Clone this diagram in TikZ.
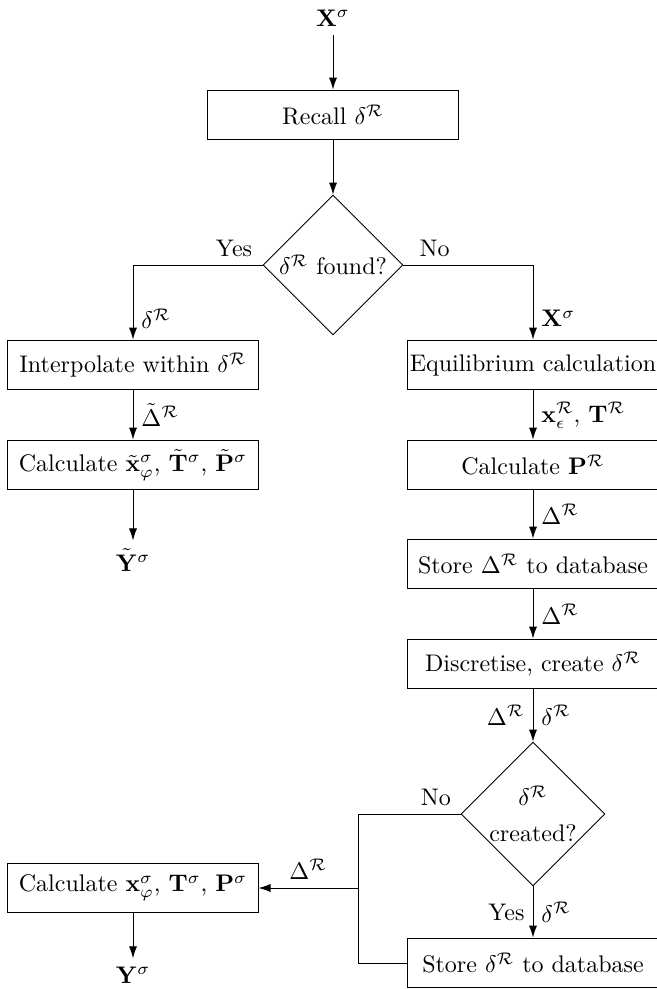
\documentclass[tikz,border=0pt]{standalone}
\usepackage{amsmath,amssymb,bm}
\usepackage{tikz}
\usetikzlibrary{positioning,arrows.meta,shapes.geometric}

\begin{document}
\begin{tikzpicture}[x=0.41667pt, y=-0.41667pt,
  procn/.style={rectangle, draw, minimum width=104.2pt, minimum height=20.8pt, inner sep=1pt},
  decn/.style={diamond, draw, aspect=1, minimum width=58.3pt, minimum height=58.3pt, inner sep=0pt, align=center},
  flow/.style={-{Latex[length=5pt, width=3.4pt]}}]
\useasboundingbox (0,0) rectangle (657,989);
% main column
\node (xin) at (333,18) {$\mathbf{X}^{\sigma}$};
\node[procn] (recall) at (333,115) {Recall $\delta^{\mathcal{R}}$};
\node[decn] (found) at (333,265) {$\delta^{\mathcal{R}}$ found?};
\draw[flow] (xin) -- (recall);
\draw[flow] (recall) -- (found);
% found branch
\node[procn] (interp) at (133,365) {Interpolate within $\delta^{\mathcal{R}}$};
\node[procn] (calct) at (133,465) {Calculate $\tilde{\mathbf{x}}^{\sigma}_{\varphi}$, $\tilde{\mathbf{T}}^{\sigma}$, $\tilde{\mathbf{P}}^{\sigma}$};
\node (ytil) at (133,560) {$\tilde{\mathbf{Y}}^{\sigma}$};
\draw[flow] (found.west) -| node[above, pos=0.11] {Yes} node[right, pos=0.86] {$\delta^{\mathcal{R}}$} (interp.north);
\draw[flow] (interp) -- node[right] {$\tilde{\Delta}^{\mathcal{R}}$} (calct);
\draw[flow] (calct) -- (ytil);
% not found branch
\node[procn] (equil) at (533,365) {Equilibrium calculation};
\node[procn] (calcp) at (533,465) {Calculate $\mathbf{P}^{\mathcal{R}}$};
\node[procn] (storeD) at (533,564) {Store $\Delta^{\mathcal{R}}$ to database};
\node[procn] (discr) at (533,664) {Discretise, create $\delta^{\mathcal{R}}$};
\node[decn] (created) at (533,814) {$\delta^{\mathcal{R}}$\\[3pt] created?};
\node[procn] (storeb) at (533,963) {Store $\delta^{\mathcal{R}}$ to database};
\draw[flow] (found.east) -| node[above, pos=0.12] {No} node[right, pos=0.86] {$\mathbf{X}^{\sigma}$} (equil.north);
\draw[flow] (equil) -- node[right] {$\mathbf{x}^{\mathcal{R}}_{\epsilon}$, $\mathbf{T}^{\mathcal{R}}$} (calcp);
\draw[flow] (calcp) -- node[right] {$\Delta^{\mathcal{R}}$} (storeD);
\draw[flow] (storeD) -- node[right] {$\Delta^{\mathcal{R}}$} (discr);
\draw[flow] (discr) -- node[left] {$\Delta^{\mathcal{R}}$} node[right] {$\delta^{\mathcal{R}}$} (created);
\draw[flow] (created) -- node[left] {Yes} node[right] {$\delta^{\mathcal{R}}$} (storeb);
% result from delta
\node[procn] (calcb) at (133,888) {Calculate $\mathbf{x}^{\sigma}_{\varphi}$, $\mathbf{T}^{\sigma}$, $\mathbf{P}^{\sigma}$};
\node (yout) at (133,975) {$\mathbf{Y}^{\sigma}$};
\coordinate (nojoin) at (358,814);
\draw (created.west) -- node[above, pos=0.24] {No} (nojoin) |- (storeb.west);
\draw[flow] (nojoin |- calcb.east) -- node[above] {$\Delta^{\mathcal{R}}$} (calcb.east);
\draw[flow] (calcb) -- (yout);
\end{tikzpicture}
\end{document}
